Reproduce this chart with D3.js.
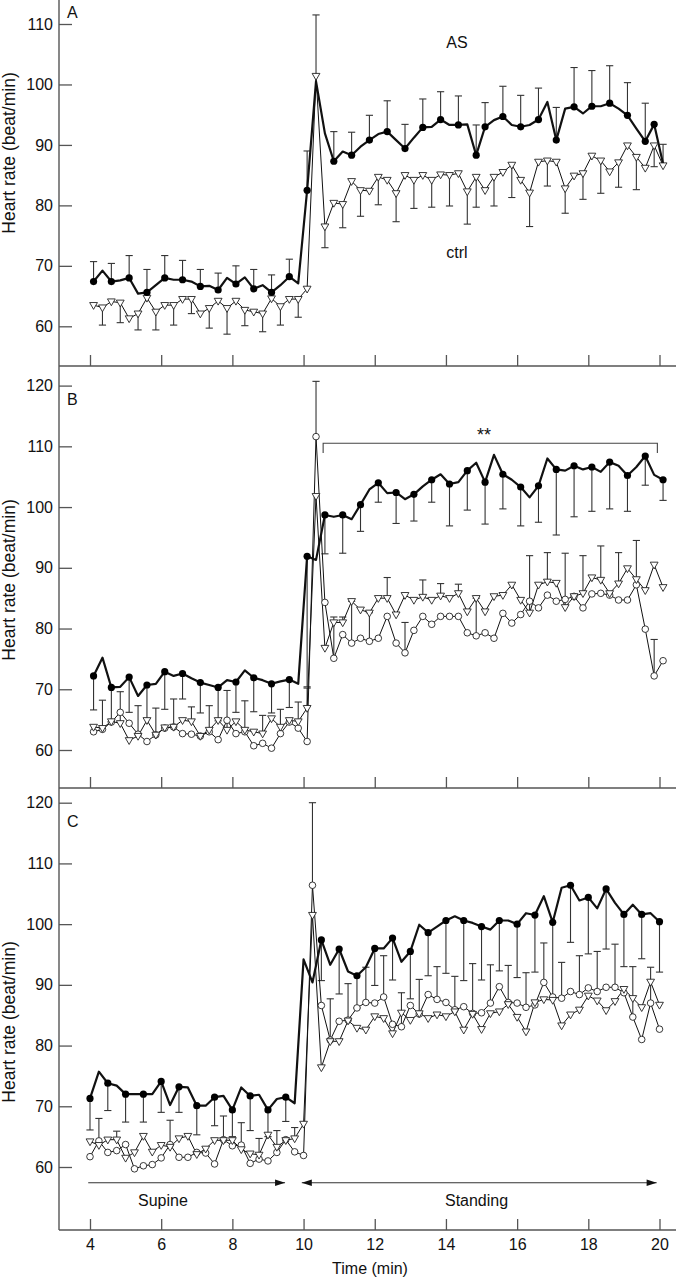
<!DOCTYPE html>
<html>
<head>
<meta charset="utf-8">
<script src="https://cdn.jsdelivr.net/npm/d3@7"></script>
<style>
  body { margin: 0; background: #fff; }
  svg { display: block; }
  text { font-family: "Liberation Sans", Arial, Helvetica, sans-serif; fill: #111; }
</style>
</head>
<body>
<svg id="chart" width="676" height="1280"></svg>
<script>
const N = null;

// Sample times (min). Panels A and B share one grid, panel C starts at 4.0
const timesAB = [4.1, 4.35, 4.6, 4.85, 5.1, 5.35, 5.6, 5.85, 6.1, 6.35, 6.6, 6.85, 7.1, 7.35, 7.6, 7.85,
  8.1, 8.35, 8.6, 8.85, 9.1, 9.35, 9.6, 9.85, 10.1, 10.35, 10.6, 10.85, 11.1, 11.35, 11.6, 11.85,
  12.1, 12.35, 12.6, 12.85, 13.1, 13.35, 13.6, 13.85, 14.1, 14.35, 14.6, 14.85, 15.1, 15.35, 15.6, 15.85,
  16.1, 16.35, 16.6, 16.85, 17.1, 17.35, 17.6, 17.85, 18.1, 18.35, 18.6, 18.85, 19.1, 19.35, 19.6, 19.85, 20.1];
const timesC = [4, 4.25, 4.5, 4.75, 5, 5.25, 5.5, 5.75, 6, 6.25, 6.5, 6.75, 7, 7.25, 7.5, 7.75,
  8, 8.25, 8.5, 8.75, 9, 9.25, 9.5, 9.75, 10, 10.25, 10.5, 10.75, 11, 11.25, 11.5, 11.75,
  12, 12.25, 12.5, 12.75, 13, 13.25, 13.5, 13.75, 14, 14.25, 14.5, 14.75, 15, 15.25, 15.5, 15.75,
  16, 16.25, 16.5, 16.75, 17, 17.25, 17.5, 17.75, 18, 18.25, 18.5, 18.75, 19, 19.25, 19.5, 19.75, 20];

// Panel A
const asA = [67.4, 69.2, 67.4, 67.6, 68.0, 65.4, 65.6, 66.8, 68.0, 67.7, 67.7, 67.4, 66.6, 66.7, 66.0, 68.0,
  67.0, 68.1, 66.2, 66.8, 65.6, 66.8, 68.2, 67.1, 82.5, 100.5, 91.9, 87.3, 88.9, 88.3, 89.7, 90.8,
  91.8, 92.2, 90.8, 89.4, 91.2, 92.9, 93.0, 94.2, 93.3, 93.3, 93.4, 88.3, 93.0, 94.1, 94.7, 93.3,
  93.0, 93.3, 94.2, 97.1, 90.8, 96.0, 96.3, 95.2, 96.4, 96.4, 96.9, 96.0, 94.9, 92.7, 90.6, 93.4, 86.9];
const asErrA = [3.3, N, 3.0, N, 3.7, N, 3.8, N, 3.7, N, 3.2, N, 2.8, N, 2.8, N,
  3.0, N, 3.2, N, 2.9, N, 2.9, N, 6.5, N, N, 4.9, N, 3.8, N, 4.1,
  N, 5.1, N, 4.0, N, 4.7, N, 4.6, N, 4.8, N, 5.0, 4.0, N, 5.0, N,
  5.2, N, 5.2, N, 5.4, N, 6.5, N, 5.9, N, 6.2, N, 5.4, N, 6.3, 0, N];
const ctrlA = [63.5, 63.1, 64.1, 63.9, 61.3, 62.1, 64.7, 62.4, 63.5, 63.5, 64.5, 64.5, 62.1, 63.0, 64.2, 63.0,
  64.2, 62.7, 62.4, 62.1, 64.6, 63.3, 64.5, 64.5, 66.2, 101.4, 76.5, 80.4, 80.2, 84.0, 82.5, 82.4,
  84.7, 84.2, 82.0, 85.0, 84.2, 85.0, 84.2, 85.1, 85.0, 85.3, 82.3, 84.7, 82.5, 84.7, 85.5, 86.7,
  84.2, 82.1, 87.2, 87.4, 87.2, 82.8, 84.9, 85.3, 88.2, 87.4, 85.6, 87.1, 89.9, 88.0, 86.2, 89.9, 86.6];
const ctrlErrA = [N, -2.9, N, -3.3, N, -2.7, N, -3.0, N, -3.3, N, -2.4, N, -3.3, N, -4.3,
  N, -2.6, N, -3.0, N, -3.1, N, -3.0, N, 10.1, -3.5, N, -3.9, N, -4.3, N,
  -4.6, N, -4.7, N, -4.7, N, -4.5, N, -5.1, N, -5.4, -5.0, N, -4.8, N, -5.4,
  N, -5.6, N, -4.2, N, -4.1, N, -4.3, N, -5.4, N, -4.1, N, -5.4, N, -3.5, 3.5];

// Panel B
const asB = [72.2, 75.2, 70.3, 70.4, 72.0, 68.9, 70.7, 70.9, 72.9, 72.2, 72.6, 71.8, 71.1, 70.7, 70.3, 71.5,
  71.2, 73.1, 71.9, 71.5, 70.9, 71.3, 71.6, 70.9, 91.9, 91.3, 98.7, 98.4, 98.7, 98.0, 100.4, 102.9,
  104.0, 102.3, 102.4, 101.3, 102.1, 103.4, 104.5, 105.4, 103.8, 104.1, 106.0, 107.3, 104.1, 108.6, 105.4, 104.5,
  103.3, 101.6, 103.5, 108.0, 106.2, 106.0, 106.8, 106.2, 106.6, 105.8, 107.4, 106.8, 105.2, 106.6, 108.4, 105.3, 104.5];
const asErrB = [-5.6, N, -5.6, N, -5.8, N, -5.5, N, -6.2, N, -4.2, N, -5.0, N, -5.5, N,
  -5.0, N, -5.6, N, -4.8, N, -4.6, N, -21.5, N, -6.4, N, -6.3, N, -4.4, N,
  -3.2, N, -5.1, N, -4.4, N, -3.7, N, -6.9, N, -6.5, N, -6.9, N, -5.7, N,
  -6.4, N, -6.0, N, -10.8, N, -8.4, N, -7.3, N, -7.7, N, -5.9, N, -4.8, N, -3.4];
const ctrlB = [63.8, 63.6, 64.7, 64.4, 61.6, 62.3, 64.9, 62.5, 63.7, 63.8, 64.9, 64.7, 62.3, 63.3, 64.9, 63.3,
  64.7, 63.3, 63.0, 62.7, 65.2, 63.8, 64.9, 64.7, 66.9, 101.8, 76.8, 81.0, 81.0, 84.5, 83.1, 82.6,
  85.0, 85.0, 82.3, 85.5, 84.7, 85.2, 84.7, 85.4, 85.0, 85.8, 82.8, 85.0, 82.8, 85.3, 85.5, 87.2,
  84.7, 82.6, 87.2, 87.7, 87.5, 83.5, 85.3, 85.8, 88.4, 88.0, 85.8, 87.4, 89.9, 88.1, 86.3, 90.5, 86.8];
const ctrlErrB = [N, 4.6, N, 5.2, N, 5.0, N, 4.4, N, 4.6, N, 2.4, N, 4.0, N, 6.5,
  N, 4.8, N, 3.0, N, 2.9, N, 3.2, 3.3, N, N, N, 0.9, N, N, N,
  N, 3.4, N, N, N, 2.8, N, 2.0, N, 1.5, N, N, N, N, N, N,
  N, 9.4, N, 4.8, N, 8.9, N, 6.2, N, 5.6, N, 5.1, N, 6.4, N, N, N];
const hcB = [63.0, 63.4, 64.6, 66.2, 64.4, 62.6, 61.4, 62.5, 63.6, 63.8, 62.7, 62.6, 62.3, 63.0, 61.7, 64.9,
  62.7, 63.0, 60.7, 61.1, 60.3, 62.7, 64.6, 63.6, 61.4, 111.6, 84.3, 75.1, 79.0, 77.6, 78.4, 77.9,
  78.4, 82.0, 77.6, 76.0, 79.7, 82.0, 80.7, 82.0, 82.0, 82.0, 79.3, 78.8, 79.3, 78.4, 82.5, 80.9,
  82.3, 84.5, 83.4, 85.5, 84.5, 84.8, 85.3, 83.4, 85.7, 85.8, 85.5, 84.7, 84.7, 87.2, 79.9, 72.2, 74.7];
const hcErrB = [N, N, N, N, N, N, N, N, N, N, N, N, N, N, N, N,
  N, N, N, N, N, N, N, N, N, 9.1, N, 6.8, N, 6.9, N, 4.7,
  N, N, N, 5.0, N, N, N, N, N, N, N, 6.2, N, N, N, N,
  N, N, N, N, N, N, N, N, N, N, N, N, N, N, N, 6.0, N];

// Panel C
const asC = [71.3, 75.7, 73.8, 73.4, 72.0, 72.0, 72.0, 72.0, 74.1, 70.2, 73.2, 73.1, 70.1, 70.1, 71.5, 71.7,
  69.4, 73.1, 71.7, 71.9, 69.4, 71.2, 71.5, 70.5, 94.2, 90.4, 97.4, 93.3, 95.9, 92.2, 91.5, 92.9,
  96.0, 96.0, 97.7, 93.8, 95.5, 99.9, 98.6, 99.6, 100.6, 101.3, 100.6, 100.2, 99.6, 99.1, 100.6, 100.6,
  100.0, 101.8, 101.5, 104.6, 100.3, 106.0, 106.4, 103.9, 104.4, 102.6, 105.8, 103.5, 101.6, 103.2, 101.6, 101.8, 100.4];
const asErrC = [-5.2, N, -4.5, N, -4.6, N, -4.6, N, -5.1, N, -4.2, N, -4.8, N, -4.7, N,
  -4.4, N, -5.7, N, -4.4, N, -4.0, N, N, N, -6.7, N, -7.4, N, -5.3, N,
  -6.1, N, -6.9, N, -7.8, N, -7.1, N, -8.7, N, -9.9, N, -8.8, N, -8.3, N,
  -8.8, N, -9.4, N, -12.5, N, -9.4, N, -9.3, N, -9.9, N, -8.6, N, -7.3, N, -8.3];
const ctrlC = [64.2, 63.6, 64.5, 64.5, 61.5, 62.4, 65.1, 62.5, 63.6, 63.3, 64.7, 65.1, 62.1, 63.0, 64.4, 64.4,
  64.4, 62.9, 62.2, 62.0, 65.3, 63.3, 64.4, 64.7, 67.1, 101.5, 76.4, 80.7, 80.7, 84.1, 82.9, 82.6,
  84.8, 84.5, 82.0, 85.4, 84.2, 85.3, 84.5, 85.1, 84.8, 85.6, 82.6, 85.2, 82.7, 85.3, 85.6, 86.8,
  84.7, 82.3, 87.1, 87.6, 87.5, 83.3, 85.1, 85.9, 88.2, 87.4, 85.8, 87.3, 89.3, 87.8, 86.3, 90.5, 86.7];
const ctrlErrC = [N, 4.4, N, 1.4, N, N, N, N, N, 4.4, N, N, N, N, N, 4.0,
  N, 4.4, N, 2.7, N, 2.7, N, 1.8, N, N, N, N, N, N, N, N,
  N, N, N, N, N, N, N, N, N, N, N, N, N, N, N, N,
  N, N, N, N, N, N, N, N, N, N, N, N, N, N, N, N, N];
const hcC = [61.7, 64.3, 62.4, 62.7, 63.7, 59.7, 60.2, 60.4, 61.5, 63.7, 61.6, 61.6, 62.4, 62.3, 60.5, 64.5,
  63.5, 63.6, 60.6, 61.3, 61.0, 62.4, 64.5, 62.5, 61.9, 106.4, 86.6, 80.9, 84.0, 84.2, 86.2, 87.1,
  87.0, 88.0, 83.5, 83.1, 86.6, 85.2, 88.4, 87.6, 87.1, 85.9, 86.4, 85.3, 85.4, 87.0, 89.7, 87.1,
  87.0, 86.3, 86.7, 90.4, 88.0, 87.8, 88.9, 88.4, 89.5, 88.9, 89.6, 89.6, 88.7, 84.7, 81.0, 87.0, 82.7];
const hcErrC = [N, N, N, N, N, N, N, N, N, N, N, N, N, N, N, N,
  N, N, N, N, N, N, N, N, N, 13.6, N, 6.8, N, 6.0, N, 5.8,
  N, 6.8, N, 5.6, N, 5.7, N, 5.4, N, 5.5, N, 8.2, N, 6.3, N, 6.1,
  N, 5.7, N, 6.5, N, 5.9, N, 6.4, N, 6.6, N, 7.1, N, 8.3, N, 5.9, N];

const xTicks = [4, 6, 8, 10, 12, 14, 16, 18, 20];

// layout
const W = 676, axisX = 59, bottomY = 1230;
const FONT = '"Liberation Sans", Arial, Helvetica, sans-serif';
const svg = d3.select('#chart');
const x = d3.scaleLinear().domain([4, 20]).range([90, 659.5]);

const panels = [
  { letter: 'A', letterY: 18, base: 366, yDom: [60, 110], yRng: [326.3, 24], yTicks: [60, 70, 80, 90, 100, 110], labelY: 153,
    times: timesAB,
    series: [
      { kind: 'ctrl', vals: ctrlA, errs: ctrlErrA },
      { kind: 'as', vals: asA, errs: asErrA }
    ] },
  { letter: 'B', letterY: 405, base: 788, yDom: [60, 120], yRng: [750, 385.6], yTicks: [60, 70, 80, 90, 100, 110, 120], labelY: 580,
    times: timesAB,
    series: [
      { kind: 'hc', vals: hcB, errs: hcErrB },
      { kind: 'ctrl', vals: ctrlB, errs: ctrlErrB },
      { kind: 'as', vals: asB, errs: asErrB }
    ] },
  { letter: 'C', letterY: 827, base: 1230, yDom: [60, 120], yRng: [1167, 802.7], yTicks: [60, 70, 80, 90, 100, 110, 120], labelY: 1022,
    times: timesC,
    series: [
      { kind: 'hc', vals: hcC, errs: hcErrC },
      { kind: 'ctrl', vals: ctrlC, errs: ctrlErrC },
      { kind: 'as', vals: asC, errs: asErrC }
    ] }
];

const triDown = 'M-3.9,-2.6L3.9,-2.6L0,4.2Z';

panels.forEach(p => {
  const y = d3.scaleLinear().domain(p.yDom).range(p.yRng);
  p.y = y;
  const g = svg.append('g');

  // y ticks point inwards, labels on the left
  g.append('g')
    .attr('transform', `translate(${axisX},0)`)
    .call(d3.axisLeft(y).tickValues(p.yTicks).tickSize(-13).tickPadding(6))
    .call(a => a.select('.domain').remove())
    .call(a => a.selectAll('line').attr('stroke', '#555').attr('stroke-width', 1.3))
    .call(a => a.selectAll('text').attr('font-size', 16).attr('font-family', FONT).attr('fill', '#111'));

  // x ticks, labels only on the last panel
  g.append('g')
    .attr('transform', `translate(0,${p.base})`)
    .call(d3.axisBottom(x).tickValues(xTicks).tickSize(-11).tickPadding(9)
      .tickFormat(p.letter === 'C' ? d3.format('d') : () => ''))
    .call(a => a.select('.domain').remove())
    .call(a => a.selectAll('line').attr('stroke', '#555').attr('stroke-width', 1.3))
    .call(a => a.selectAll('text').attr('font-size', 16).attr('font-family', FONT).attr('fill', '#111'));

  g.append('line')
    .attr('x1', axisX).attr('x2', W).attr('y1', p.base).attr('y2', p.base)
    .attr('stroke', '#555').attr('stroke-width', 1.4);

  // panel letter
  g.append('text').attr('x', 67).attr('y', p.letterY).attr('font-size', 16).text(p.letter);

  // y label
  g.append('text')
    .attr('transform', `translate(15,${p.labelY}) rotate(-90)`)
    .attr('text-anchor', 'middle').attr('font-size', 17.5)
    .text('Heart rate (beat/min)');

  const rows = p.series.map(s => ({
    kind: s.kind,
    pts: p.times.map((t, i) => ({ t, v: s.vals[i], e: s.errs[i] }))
  }));

  // error bars
  rows.forEach(r => {
    const eb = r.pts.filter(d => d.e != null && d.e !== 0);
    const eg = g.append('g').attr('stroke', '#333').attr('stroke-width', 1.1);
    eg.selectAll('line.bar').data(eb).join('line')
      .attr('class', 'bar')
      .attr('x1', d => x(d.t)).attr('x2', d => x(d.t))
      .attr('y1', d => y(d.v)).attr('y2', d => y(d.v + d.e));
    eg.selectAll('line.cap').data(eb).join('line')
      .attr('class', 'cap')
      .attr('x1', d => x(d.t) - 3.6).attr('x2', d => x(d.t) + 3.6)
      .attr('y1', d => y(d.v + d.e)).attr('y2', d => y(d.v + d.e));
  });

  // lines
  const line = d3.line().x(d => x(d.t)).y(d => y(d.v));
  rows.forEach(r => {
    g.append('path')
      .datum(r.pts)
      .attr('d', line)
      .attr('fill', 'none')
      .attr('stroke', '#111')
      .attr('stroke-width', r.kind === 'as' ? 2.2 : 1)
      .attr('stroke-linejoin', 'round');
  });

  // markers
  rows.forEach(r => {
    if (r.kind === 'as') {
      g.selectAll(null).data(r.pts.filter(d => d.e != null)).join('circle')
        .attr('cx', d => x(d.t)).attr('cy', d => y(d.v)).attr('r', 3.6)
        .attr('fill', '#000');
    } else if (r.kind === 'ctrl') {
      g.selectAll(null).data(r.pts).join('path')
        .attr('d', triDown)
        .attr('transform', d => `translate(${x(d.t)},${y(d.v)})`)
        .attr('fill', '#fff').attr('stroke', '#222').attr('stroke-width', 0.9);
    } else {
      g.selectAll(null).data(r.pts).join('circle')
        .attr('cx', d => x(d.t)).attr('cy', d => y(d.v)).attr('r', 3.3)
        .attr('fill', '#fff').attr('stroke', '#222').attr('stroke-width', 0.9);
    }
  });
});

// left axis line running through all panels
svg.append('line')
  .attr('x1', axisX).attr('x2', axisX).attr('y1', 0).attr('y2', bottomY)
  .attr('stroke', '#555').attr('stroke-width', 1.4);

// annotations
const yA = panels[0].y, yB = panels[1].y, yC = panels[2].y;
svg.append('text').attr('x', x(14.31)).attr('y', yA(107.0)).attr('dy', '0.35em')
  .attr('text-anchor', 'middle').attr('font-size', 16).text('AS');
svg.append('text').attr('x', x(14.31)).attr('y', yA(72.3)).attr('dy', '0.35em')
  .attr('text-anchor', 'middle').attr('font-size', 16).text('ctrl');

// significance bracket in B
const br = { from: 10.55, to: 19.94, level: 110.5, drop: 1.6 };
svg.append('path')
  .attr('d', `M${x(br.from)},${yB(br.level - br.drop)}V${yB(br.level)}H${x(br.to)}V${yB(br.level - br.drop)}`)
  .attr('fill', 'none').attr('stroke', '#444').attr('stroke-width', 1.1);
svg.append('text').attr('x', x(15.07)).attr('y', yB(112.2)).attr('dy', '0.45em')
  .attr('text-anchor', 'middle').attr('font-size', 18).text('**');

// posture arrows in C
const phases = [
  { name: 'Supine', from: 3.95, to: 9.48, mid: 6.05, both: false },
  { name: 'Standing', from: 9.95, to: 19.92, mid: 14.86, both: true }
];
const arrowV = 57.4, labelV = 54.5;
const head = (px, py, dir) => `M${px},${py}L${px - dir * 10},${py - 3.2}L${px - dir * 10},${py + 3.2}Z`;
phases.forEach(ph => {
  const py = yC(arrowV);
  svg.append('line').attr('x1', x(ph.from)).attr('x2', x(ph.to)).attr('y1', py).attr('y2', py)
    .attr('stroke', '#333').attr('stroke-width', 1.1);
  svg.append('path').attr('d', head(x(ph.to), py, 1)).attr('fill', '#111');
  if (ph.both) svg.append('path').attr('d', head(x(ph.from), py, -1)).attr('fill', '#111');
  svg.append('text').attr('x', x(ph.mid)).attr('y', yC(labelV)).attr('dy', '0.35em')
    .attr('text-anchor', 'middle').attr('font-size', 16).text(ph.name);
});

svg.append('text').attr('x', 370).attr('y', 1274)
  .attr('text-anchor', 'middle').attr('font-size', 16).text('Time (min)');
</script>
</body>
</html>
